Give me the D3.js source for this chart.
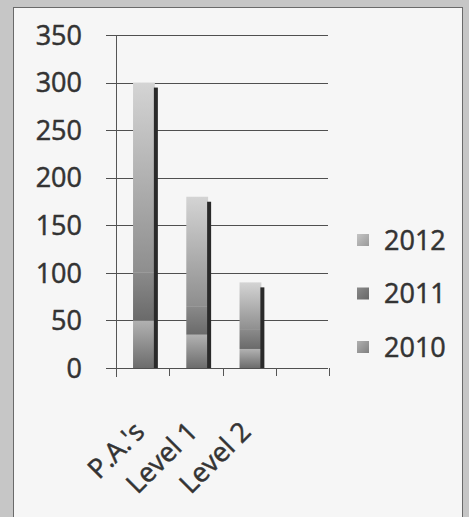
<!DOCTYPE html>
<html>
<head>
<meta charset="utf-8">
<script src="https://cdn.jsdelivr.net/npm/d3@7"></script>
<style>
  html, body { margin: 0; padding: 0; background: #c4c4c4; }
  svg { display: block; }
  text { font-family: "Open Sans", "DejaVu Sans", sans-serif; fill: #333; stroke: #333; stroke-width: 0.5px; }
</style>
</head>
<body>
<svg id="chart" width="469" height="517"></svg>
<script>
// Categories along the x axis (the fourth slot is left empty)
const categories = ["P.A.'s", "Level 1", "Level 2", ""];
// Stacked series, bottom to top
const seriesNames = ["2010", "2011", "2012"];
const values2010 = [50, 35, 20, 0];
const values2011 = [50, 30, 20, 0];
const values2012 = [200, 115, 50, 0];
const yTicks = [0, 50, 100, 150, 200, 250, 300, 350];
const legendOrder = ["2012", "2011", "2010"];

const seriesValues = { "2010": values2010, "2011": values2011, "2012": values2012 };

const svg = d3.select("#chart");
const W = 469, H = 517;

// Frame and panel
svg.append("rect").attr("x", 0).attr("y", 0).attr("width", W).attr("height", H).attr("fill", "#c6c6c6");
svg.append("rect").attr("x", 13.5).attr("y", 7.5).attr("width", 449).attr("height", 520)
  .attr("fill", "#f6f6f6").attr("stroke", "#6a6a6a").attr("stroke-width", 1);

const defs = svg.append("defs");
const grads = {
  "2012": ["#d4d4d4", "#8e8e8e"],
  "2011": ["#8a8a8a", "#6a6a6a"],
  "2010": ["#b2b2b2", "#6c6c6c"]
};
const swatch = { "2012": ["#c4c4c4", "#9a9a9a"], "2011": ["#8a8a8a", "#666"], "2010": ["#b0b0b0", "#808080"] };
seriesNames.forEach(s => {
  const g = defs.append("linearGradient").attr("id", "g" + s)
    .attr("x1", 0).attr("y1", 0).attr("x2", 0).attr("y2", 1);
  g.append("stop").attr("offset", "0%").attr("stop-color", grads[s][0]);
  g.append("stop").attr("offset", "100%").attr("stop-color", grads[s][1]);
  const sw = defs.append("linearGradient").attr("id", "sw" + s)
    .attr("x1", 0).attr("y1", 0).attr("x2", 1).attr("y2", 1);
  sw.append("stop").attr("offset", "0%").attr("stop-color", swatch[s][0]);
  sw.append("stop").attr("offset", "100%").attr("stop-color", swatch[s][1]);
});

const x0 = 116, x1 = 329;
const x = d3.scaleBand().domain(categories).range([x0, x1]).paddingInner(0).paddingOuter(0);
const y = d3.scaleLinear().domain([0, 350]).range([368, 35]);

// Gridlines
svg.append("g").selectAll("line").data(yTicks).join("line")
  .attr("x1", 106).attr("x2", 328)
  .attr("y1", d => Math.round(y(d)) + 0.5).attr("y2", d => Math.round(y(d)) + 0.5)
  .attr("stroke", "#3e3e3e").attr("stroke-width", 1).attr("stroke-opacity", 0.9);

// Y axis labels
svg.append("g").selectAll("text").data(yTicks).join("text")
  .attr("x", 82).attr("y", d => y(d))
  .attr("dy", "0.36em")
  .attr("text-anchor", "end")
  .attr("font-size", 27)
  .text(d => d);

// Vertical axis line and category ticks
svg.append("line").attr("x1", x0 + 0.5).attr("x2", x0 + 0.5).attr("y1", y(350)).attr("y2", 377)
  .attr("stroke", "#555").attr("stroke-width", 1);
const tickXs = categories.map(c => x(c) + x.bandwidth());
svg.append("g").selectAll("line").data(tickXs).join("line")
  .attr("x1", d => Math.round(d) + 0.5).attr("x2", d => Math.round(d) + 0.5)
  .attr("y1", 368).attr("y2", 376)
  .attr("stroke", "#555").attr("stroke-width", 1);

// Stacked columns
const table = categories.map((c, i) => {
  const row = { cat: c };
  seriesNames.forEach(s => row[s] = seriesValues[s][i]);
  return row;
});
const stacked = d3.stack().keys(seriesNames)(table);
const barOff = 0.32, barW = 0.41, sideW = 4;

const barsG = svg.append("g");
stacked.forEach(layer => {
  barsG.append("g").selectAll("rect").data(layer.filter(d => d[1] > d[0])).join("rect")
    .attr("x", d => x(d.data.cat) + x.bandwidth() * barOff)
    .attr("width", x.bandwidth() * barW)
    .attr("y", d => y(d[1]))
    .attr("height", d => y(d[0]) - y(d[1]))
    .attr("fill", "url(#g" + layer.key + ")");
});

// Dark side face of each column
const total = r => seriesNames.reduce((a, s) => a + r[s], 0);
barsG.append("g").selectAll("rect").data(table.filter(r => total(r) > 0)).join("rect")
  .attr("x", d => x(d.cat) + x.bandwidth() * (barOff + barW) - 1)
  .attr("width", sideW)
  .attr("y", d => y(total(d)) + 5)
  .attr("height", d => 368 - y(total(d)) - 5)
  .attr("fill", "#2a2a2a");

// Category labels
svg.append("g").selectAll("text").data(categories.filter(c => c !== "")).join("text")
  .attr("transform", c => `translate(${x(c) + x.bandwidth() / 2 - 10},${420}) rotate(-45)`)
  .attr("text-anchor", "end")
  .attr("dy", "0.7em")
  .attr("font-size", 27)
  .text(c => c);

// Legend
const lg = svg.append("g").selectAll("g").data(legendOrder).join("g")
  .attr("transform", (d, i) => `translate(357,${240 + i * 53.5})`);
lg.append("rect").attr("x", 0).attr("y", -6).attr("width", 12).attr("height", 12)
  .attr("fill", d => "url(#sw" + d + ")");
lg.append("text").attr("x", 27).attr("y", 0).attr("dy", "0.36em")
  .attr("font-size", 27).text(d => d);
</script>
</body>
</html>
